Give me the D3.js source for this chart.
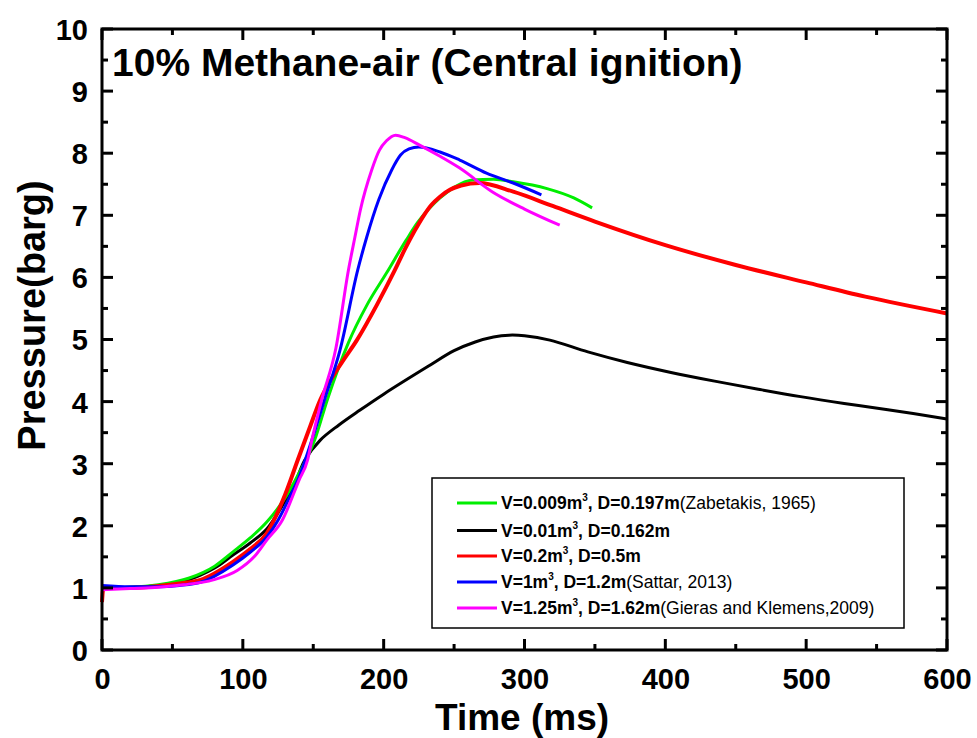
<!DOCTYPE html>
<html>
<head>
<meta charset="utf-8">
<script src="https://cdn.jsdelivr.net/npm/d3@7"></script>
<style>
  html, body { margin: 0; padding: 0; background: #fff; }
  svg { display: block; font-family: Arial, "Liberation Sans", sans-serif; }
</style>
</head>
<body>
<svg id="chart" width="977" height="738"></svg>
<script>
// ---------- data ----------
const xTicks = [0, 100, 200, 300, 400, 500, 600];
const yTicks = [0, 1, 2, 3, 4, 5, 6, 7, 8, 9, 10];

const greenZabetakis = [[0,1.0],[20,1.01],[40,1.05],[62,1.16],[80,1.35],[93,1.58],[105,1.8],[117,2.06],[130,2.45],[140,2.85],[151,3.38],[160,4.03],[175,4.95],[188,5.55],[202,6.07],[216,6.6],[224,6.88],[232,7.1],[240,7.28],[250,7.45],[263,7.57],[278,7.58],[292,7.54],[316,7.43],[335,7.28],[348,7.12]];
const blackV001 = [[0,1.0],[20,1.01],[40,1.04],[60,1.12],[80,1.32],[93,1.53],[105,1.72],[117,1.95],[130,2.4],[139,2.8],[144,3.06],[155,3.38],[168,3.62],[183,3.86],[200,4.12],[231,4.56],[250,4.82],[265,4.96],[278,5.04],[289,5.07],[300,5.06],[318,4.99],[345,4.80],[373,4.63],[404,4.47],[435,4.33],[466,4.20],[496,4.08],[527,3.97],[558,3.87],[600,3.72]];
const redV02 = [[0,0.77],[1,1.0],[20,1.0],[40,1.03],[55,1.07],[70,1.13],[93,1.42],[105,1.62],[117,1.88],[130,2.5],[139,3.06],[147,3.55],[155,4.03],[162,4.33],[170,4.62],[181,4.99],[195,5.55],[208,6.12],[215,6.45],[222,6.75],[228,6.98],[234,7.17],[240,7.3],[247,7.41],[255,7.48],[268,7.52],[292,7.38],[320,7.15],[350,6.9],[400,6.52],[450,6.2],[500,5.92],[542,5.69],[600,5.42]];
const blueSattar = [[0,1.04],[20,1.02],[40,1.02],[55,1.04],[70,1.09],[93,1.37],[105,1.57],[117,1.82],[125,2.09],[133,2.45],[140,2.79],[150,3.45],[158,4.03],[169,4.83],[181.6,6.12],[188,6.65],[196.5,7.25],[205.7,7.73],[212,7.97],[218,8.07],[225,8.10],[240,8.02],[254,7.89],[273,7.68],[292,7.52],[312,7.33]];
const magentaGieras = [[0,0.97],[20,0.99],[40,1.01],[58,1.05],[79,1.13],[96,1.28],[108,1.5],[117,1.77],[128,2.09],[140,2.74],[146,3.06],[149,3.38],[156,4.03],[166,4.85],[175,6.12],[179.6,6.65],[183.5,7.09],[191.5,7.73],[197,8.05],[202,8.2],[208.5,8.29],[215,8.25],[225.5,8.13],[240,7.95],[254,7.76],[277,7.38],[300,7.1],[325,6.84]];

const seriesNames = [
  {bold: "V=0.009m", sup: "3", bold2: ", D=0.197m", normal: "(Zabetakis, 1965)"},
  {bold: "V=0.01m", sup: "3", bold2: ", D=0.162m", normal: ""},
  {bold: "V=0.2m", sup: "3", bold2: ", D=0.5m", normal: ""},
  {bold: "V=1m", sup: "3", bold2: ", D=1.2m", normal: "(Sattar, 2013)"},
  {bold: "V=1.25m", sup: "3", bold2: ", D=1.62m", normal: "(Gieras and Klemens,2009)"}
];
const seriesColors = ["#00ee00", "#000000", "#ff0000", "#0000ff", "#ff00ff"];
const seriesData = [greenZabetakis, blackV001, redV02, blueSattar, magentaGieras];
const seriesWidths = [3, 3, 4, 3, 3];

// ---------- layout ----------
const svg = d3.select("#chart");
const L = 102, R = 947, T = 29, B = 650;
const x = d3.scaleLinear().domain([0, 600]).range([L, R]);
const y = d3.scaleLinear().domain([0, 10]).range([B, T]);

const lineMono = d3.line().x(d => x(d[0])).y(d => y(d[1])).curve(d3.curveMonotoneX);
const lineSmooth = d3.line().x(d => x(d[0])).y(d => y(d[1])).curve(d3.curveCatmullRom.alpha(0.5));
const drawOrder = [1, 0, 2, 3, 4];
const gLines = svg.append("g");
drawOrder.forEach(i => {
  gLines.append("path")
    .datum(seriesData[i])
    .attr("d", i === 1 ? lineSmooth : lineMono)
    .attr("fill", "none")
    .attr("stroke", seriesColors[i])
    .attr("stroke-width", seriesWidths[i])
    .attr("stroke-linejoin", "round");
});

// axes with inward ticks
const fontTick = 29;
function axisTicks(g, orient) {
  const majorLen = 11, minorLen = 6;
  if (orient === "bottom" || orient === "top") {
    const y0 = orient === "bottom" ? B : T;
    const dir = orient === "bottom" ? -1 : 1;
    d3.range(0, 601, 50).forEach(v => {
      const len = v % 100 === 0 ? majorLen : minorLen;
      g.append("line").attr("x1", x(v)).attr("x2", x(v)).attr("y1", y0).attr("y2", y0 + dir * len)
        .attr("stroke", "#000").attr("stroke-width", 3);
    });
  } else {
    const x0 = orient === "left" ? L : R;
    const dir = orient === "left" ? 1 : -1;
    d3.range(0, 10.01, 0.5).forEach(v => {
      const len = Math.abs(v - Math.round(v)) < 1e-6 ? majorLen : minorLen;
      g.append("line").attr("x1", x0).attr("x2", x0 + dir * len).attr("y1", y(v)).attr("y2", y(v))
        .attr("stroke", "#000").attr("stroke-width", 3);
    });
  }
}
const gAxes = svg.append("g");
["bottom", "top", "left", "right"].forEach(o => axisTicks(gAxes, o));
gAxes.append("rect").attr("x", L).attr("y", T).attr("width", R - L).attr("height", B - T)
  .attr("fill", "none").attr("stroke", "#000").attr("stroke-width", 3);

// tick labels via d3 axis (tick marks hidden)
const xAxis = d3.axisBottom(x).tickValues(xTicks).tickSize(0).tickPadding(0);
const gx = svg.append("g").attr("transform", `translate(0,${B})`).call(xAxis);
gx.select(".domain").remove();
gx.selectAll("text").attr("font-size", fontTick).attr("font-weight", "bold")
  .attr("font-family", "Arial, 'Liberation Sans', sans-serif").attr("fill", "#000")
  .attr("dy", null).attr("y", 39);

const yAxis = d3.axisLeft(y).tickValues(yTicks).tickSize(0).tickPadding(14);
const gy = svg.append("g").attr("transform", `translate(${L},0)`).call(yAxis);
gy.select(".domain").remove();
gy.selectAll("text").attr("font-size", fontTick).attr("font-weight", "bold")
  .attr("font-family", "Arial, 'Liberation Sans', sans-serif").attr("fill", "#000")
  .attr("dy", "0.36em");

// title
svg.append("text").attr("x", 112).attr("y", 76)
  .attr("font-size", 39).attr("font-weight", "bold").text("10% Methane-air (Central ignition)");

// axis titles
svg.append("text").attr("x", 522).attr("y", 730).attr("text-anchor", "middle")
  .attr("font-size", 37).attr("font-weight", "bold").text("Time (ms)");
svg.append("text").attr("transform", `translate(45,${(T + B) / 2 - 24}) rotate(-90)`)
  .attr("text-anchor", "middle")
  .attr("font-size", 38).attr("font-weight", "bold").text("Pressure(barg)");

// legend
const lg = svg.append("g");
lg.append("rect").attr("x", 432).attr("y", 478).attr("width", 472).attr("height", 150)
  .attr("fill", "#fff").attr("stroke", "#000").attr("stroke-width", 1.5);
const rowY = [503, 530.5, 556, 582, 608];
seriesNames.forEach((s, i) => {
  lg.append("line").attr("x1", 457).attr("x2", 497).attr("y1", rowY[i]).attr("y2", rowY[i])
    .attr("stroke", seriesColors[i]).attr("stroke-width", 3);
  const t = lg.append("text").attr("x", 501).attr("y", rowY[i] + 6).attr("font-size", 17.5);
  t.append("tspan").attr("font-weight", "bold").text(s.bold);
  t.append("tspan").attr("font-weight", "bold").attr("font-size", 10).attr("dy", -8).text(s.sup);
  t.append("tspan").attr("font-weight", "bold").attr("dy", 8).text(s.bold2);
  if (s.normal) t.append("tspan").text(s.normal);
});
</script>
</body>
</html>
